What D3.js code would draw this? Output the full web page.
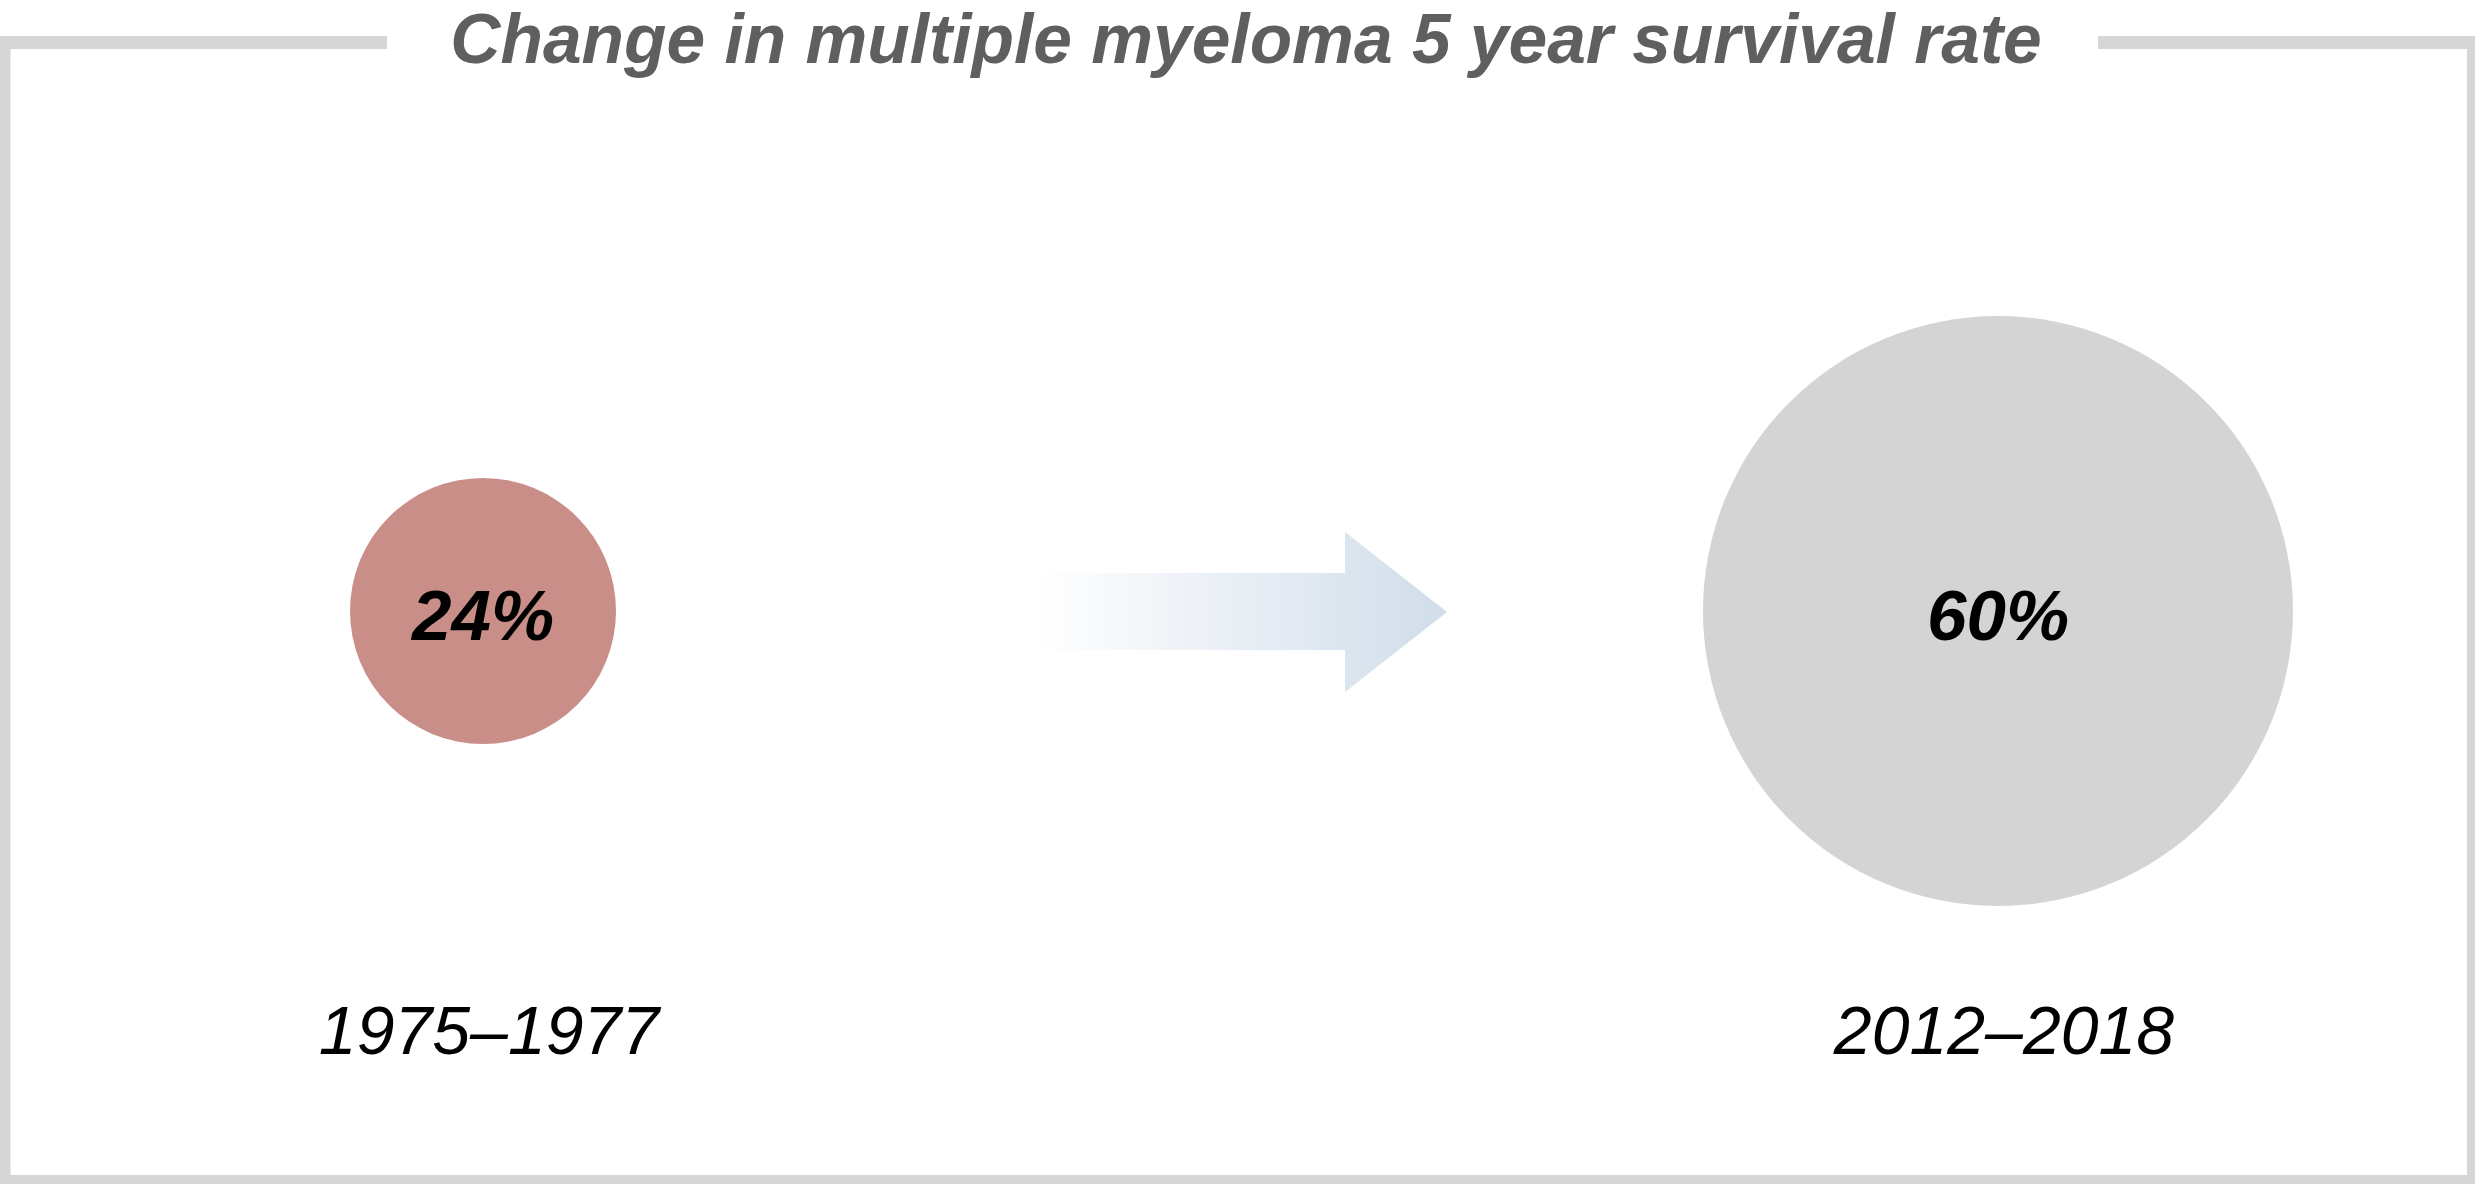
<!DOCTYPE html>
<html>
<head>
<meta charset="utf-8">
<script src="https://cdn.jsdelivr.net/npm/d3@7"></script>
<style>
  html, body { margin: 0; padding: 0; background: #ffffff; }
  svg { display: block; }
</style>
</head>
<body>
<script>
// ---- data ----
const titleText = "Change in multiple myeloma 5 year survival rate";
const periods = ["1975\u20131977", "2012\u20132018"];
const rates = [24, 60];
const rateLabels = ["24%", "60%"];
const circleColors = ["#c98e88", "#d4d4d4"];

// ---- layout ----
const W = 2475, H = 1184;
const svg = d3.select("body").append("svg")
  .attr("width", W).attr("height", H);

const x = d3.scalePoint().domain(periods).range([483, 1998]);
const r = d3.scaleLinear().domain([24, 60]).range([133, 295]);
const cy = 611;

// gradient for arrow
const defs = svg.append("defs");
const grad = defs.append("linearGradient")
  .attr("id", "arrowGrad")
  .attr("gradientUnits", "userSpaceOnUse")
  .attr("x1", 1035).attr("x2", 1447).attr("y1", 0).attr("y2", 0);
grad.append("stop").attr("offset", "0%").attr("stop-color", "#ffffff");
grad.append("stop").attr("offset", "100%").attr("stop-color", "#d1ddea");

// frame with gap for the title
const frame = d3.path();
frame.moveTo(387, 42.5);
frame.lineTo(4, 42.5);
frame.lineTo(4, 1181.5);
frame.lineTo(2473.5, 1181.5);
frame.lineTo(2473.5, 42.5);
frame.lineTo(2098, 42.5);
svg.append("path")
  .attr("d", frame.toString())
  .attr("fill", "none")
  .attr("stroke", "#d6d6d6")
  .attr("stroke-width", 13);

// title
svg.append("text")
  .attr("x", 1246).attr("y", 63)
  .attr("text-anchor", "middle")
  .attr("font-family", "'Liberation Sans', Arial, Helvetica, sans-serif")
  .attr("font-weight", "bold")
  .attr("font-style", "italic")
  .attr("font-size", 69.5)
  .attr("fill", "#5f5f5f")
  .text(titleText);

// arrow
const arrow = d3.path();
arrow.moveTo(1035, 573);
arrow.lineTo(1345, 573);
arrow.lineTo(1345, 532);
arrow.lineTo(1447, 612);
arrow.lineTo(1345, 692);
arrow.lineTo(1345, 650);
arrow.lineTo(1035, 650);
arrow.closePath();
svg.append("path")
  .attr("d", arrow.toString())
  .attr("fill", "url(#arrowGrad)");

const data = periods.map((p, i) => ({ period: p, rate: rates[i], label: rateLabels[i], color: circleColors[i] }));

// circles
svg.selectAll("circle.bubble")
  .data(data)
  .join("circle")
  .attr("class", "bubble")
  .attr("cx", d => x(d.period))
  .attr("cy", cy)
  .attr("r", d => r(d.rate))
  .attr("fill", d => d.color);

// value labels
svg.selectAll("text.value")
  .data(data)
  .join("text")
  .attr("class", "value")
  .attr("x", d => x(d.period))
  .attr("y", cy + 29)
  .attr("text-anchor", "middle")
  .attr("font-family", "'Liberation Sans', Arial, Helvetica, sans-serif")
  .attr("font-weight", "bold")
  .attr("font-style", "italic")
  .attr("font-size", 71)
  .attr("fill", "#000000")
  .text(d => d.label);

// period labels
svg.selectAll("text.period")
  .data(data)
  .join("text")
  .attr("class", "period")
  .attr("x", d => x(d.period) + 6)
  .attr("y", 1054)
  .attr("text-anchor", "middle")
  .attr("font-family", "'Liberation Sans', Arial, Helvetica, sans-serif")
  .attr("font-style", "italic")
  .attr("font-size", 68)
  .attr("fill", "#000000")
  .text(d => d.period);
</script>
</body>
</html>
